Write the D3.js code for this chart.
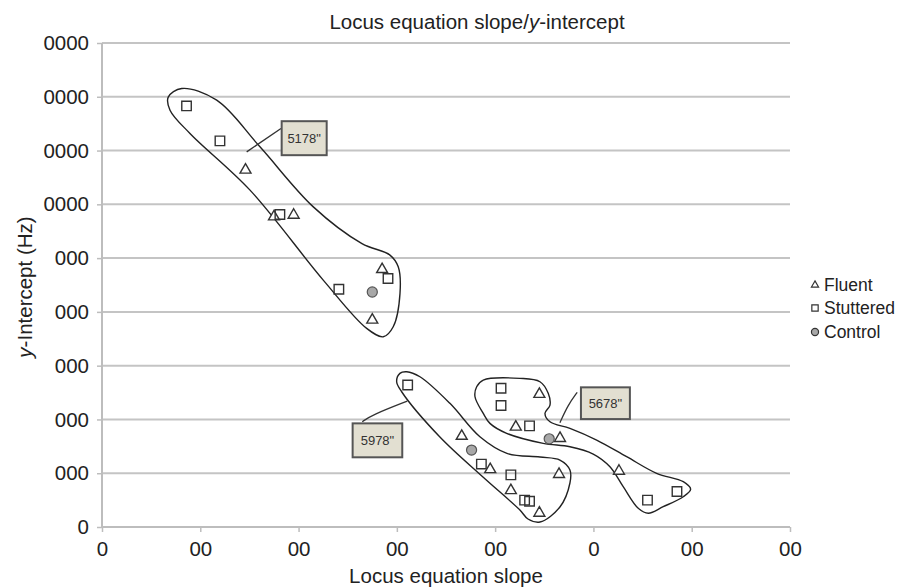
<!DOCTYPE html>
<html>
<head>
<meta charset="utf-8">
<script src="https://cdn.jsdelivr.net/npm/d3@7"></script>
<style>
  html, body { margin: 0; padding: 0; background: #fff; }
  svg { display: block; font-family: "Liberation Sans", Arial, Helvetica, sans-serif; }
</style>
</head>
<body>
<svg id="chart" width="900" height="587"></svg>
<script>
// ---------- data ----------
const xTickValues = [0, 1, 2, 3, 4, 5, 6, 7];
const xTickLabels = ["0", "00", "00", "00", "00", "0", "00", "00"];
const yTickValues = [0, 1, 2, 3, 4, 5, 6, 7, 8, 9];
const yTickLabels = ["0", "000", "000", "000", "000", "000", "0000", "0000", "0000", "0000"];

const fluent = [[1.46,6.64],[1.75,5.77],[1.95,5.80],[2.85,4.79],[2.75,3.85],[3.66,1.69],[3.95,1.07],
  [4.16,0.68],[4.45,0.26],[4.65,0.98],[4.45,2.47],[4.21,1.86],[4.66,1.65],[5.26,1.04]];
const stuttered = [[0.86,7.83],[1.20,7.18],[1.81,5.81],[2.91,4.62],[2.41,4.42],[3.11,2.64],[3.86,1.17],
  [4.16,0.97],[4.30,0.50],[4.35,0.48],[4.06,2.58],[4.06,2.26],[4.35,1.88],[5.55,0.50],[5.85,0.66]];
const control = [[2.75,4.37],[3.76,1.43],[4.55,1.64]];

const seriesNames = ["Fluent", "Stuttered", "Control"];

// hand-drawn group outlines (data units)
const outline1 = [[0.811,8.154],[1.167,7.937],[1.607,7.069],[2.150,5.953],[2.645,5.270],[2.930,5.056],
  [3.014,4.838],[3.032,4.344],[2.963,3.723],[2.862,3.537],[2.693,3.693],[2.251,4.591],[1.506,6.264],
  [0.895,7.318],[0.692,7.751],[0.674,7.993]];
const outline2 = [[3.100,2.887],[3.235,2.794],[3.540,2.299],[3.845,1.678],[4.120,1.370],[4.456,1.301],
  [4.659,1.245],[4.761,1.059],[4.761,0.818],[4.659,0.372],[4.456,0.093],[4.334,0.149],[4.252,0.316],
  [3.876,0.929],[3.438,1.673],[3.049,2.515],[2.998,2.701],[3.031,2.857]];
const outline3 = [[3.879,2.732],[4.252,2.764],[4.456,2.701],[4.540,2.485],[4.558,2.268],[4.507,2.113],
  [4.558,1.957],[4.761,1.835],[5.033,1.617],[5.338,1.307],[5.643,0.998],[5.914,0.842],[5.989,0.701],
  [5.914,0.563],[5.710,0.377],[5.558,0.255],[5.456,0.348],[5.303,0.749],[5.168,1.121],[4.998,1.357],
  [4.761,1.493],[4.489,1.556],[4.117,1.742],[3.947,1.927],[3.879,2.113],[3.795,2.422],[3.812,2.608]];

// callout labels: text, box corners [x0,y0,x1,y1], leader points
const callouts = [
  { text: "5178\"", box: [1.828, 7.546, 2.286, 6.914], leader: [[1.472,6.976],[1.821,7.411]] },
  { text: "5978\"", box: [2.550, 1.927, 3.055, 1.296], leader: [[2.648,1.957],[2.744,2.082],[3.106,2.342]] },
  { text: "5678\"", box: [4.873, 2.597, 5.371, 2.007], leader: [[4.835,2.504],[4.741,2.268],[4.659,1.939]] }
];

// ---------- layout ----------
const FS = 20.5;
const svg = d3.select("#chart");
const x = d3.scaleLinear().domain([0, 7]).range([102, 790]);
const y = d3.scaleLinear().domain([0, 9]).range([527, 43]);

// gridlines
svg.append("g").selectAll("line").data(yTickValues.filter(v => v > 0)).join("line")
  .attr("x1", x(0)).attr("x2", x(7))
  .attr("y1", d => y(d)).attr("y2", d => y(d))
  .attr("stroke", "#c4c4c4").attr("stroke-width", 2);

// axes
const yAxis = d3.axisLeft(y).tickValues(yTickValues).tickSize(5).tickPadding(8)
  .tickFormat((d, i) => yTickLabels[i]);
const gy = svg.append("g").attr("transform", `translate(${x(0)},0)`).call(yAxis);
const xAxis = d3.axisBottom(x).tickValues(xTickValues).tickSize(5).tickPadding(9)
  .tickFormat((d, i) => xTickLabels[i]);
const gx = svg.append("g").attr("transform", `translate(0,${y(0)})`).call(xAxis);
[gx, gy].forEach(g => {
  g.select(".domain").attr("stroke", "#bdbdbd").attr("stroke-width", 2);
  g.selectAll(".tick line").attr("stroke", "#bdbdbd").attr("stroke-width", 1.5);
  g.selectAll(".tick text").attr("font-size", FS).attr("fill", "#222")
    .attr("font-family", "Liberation Sans, Arial, sans-serif");
});
gy.select(".domain").attr("d", `M0,${y(9)}V${y(0)}`);
gx.select(".domain").attr("d", `M${x(0)},0H${x(7)}`);

// titles
const title = svg.append("text").attr("x", 477).attr("y", 29).attr("text-anchor", "middle")
  .attr("font-size", FS).attr("fill", "#222");
title.append("tspan").text("Locus equation slope/");
title.append("tspan").attr("font-style", "italic").text("y");
title.append("tspan").text("-intercept");

svg.append("text").attr("x", 446).attr("y", 583).attr("text-anchor", "middle")
  .attr("font-size", FS).attr("fill", "#222").text("Locus equation slope");

const yl = svg.append("text").attr("transform", "translate(32,287) rotate(-90)")
  .attr("text-anchor", "middle").attr("font-size", FS).attr("fill", "#222");
yl.append("tspan").attr("font-style", "italic").text("y");
yl.append("tspan").text("-Intercept (Hz)");

// outlines
const outlineLine = d3.line().x(d => x(d[0])).y(d => y(d[1])).curve(d3.curveCatmullRomClosed.alpha(0.5));
svg.append("g").selectAll("path").data([outline1, outline2, outline3]).join("path")
  .attr("d", outlineLine).attr("fill", "none").attr("stroke", "#222").attr("stroke-width", 1.4);

// markers
const triangle = d3.symbol().type(d3.symbolTriangle).size(52);
const square = d3.symbol().type(d3.symbolSquare).size(90);
const circle = d3.symbol().type(d3.symbolCircle).size(80);

svg.append("g").selectAll("path").data(fluent).join("path")
  .attr("transform", d => `translate(${x(d[0])},${y(d[1])})`)
  .attr("d", triangle).attr("fill", "#fff").attr("stroke", "#333").attr("stroke-width", 1.4);
svg.append("g").selectAll("path").data(stuttered).join("path")
  .attr("transform", d => `translate(${x(d[0])},${y(d[1])})`)
  .attr("d", square).attr("fill", "none").attr("stroke", "#333").attr("stroke-width", 1.4);
svg.append("g").selectAll("path").data(control).join("path")
  .attr("transform", d => `translate(${x(d[0])},${y(d[1])})`)
  .attr("d", circle).attr("fill", "#a8a8a8").attr("stroke", "#555").attr("stroke-width", 1.2);

// callouts
const leaderLine = d3.line().x(d => x(d[0])).y(d => y(d[1])).curve(d3.curveBasis);
const cg = svg.append("g").selectAll("g").data(callouts).join("g");
cg.append("path").attr("d", d => leaderLine(d.leader)).attr("fill", "none")
  .attr("stroke", "#333").attr("stroke-width", 1.3);
cg.append("rect")
  .attr("x", d => x(d.box[0])).attr("y", d => y(d.box[1]))
  .attr("width", d => x(d.box[2]) - x(d.box[0])).attr("height", d => y(d.box[3]) - y(d.box[1]))
  .attr("fill", "#e2dfd1").attr("stroke", "#555").attr("stroke-width", 2);
cg.append("text")
  .attr("x", d => (x(d.box[0]) + x(d.box[2])) / 2).attr("y", d => (y(d.box[1]) + y(d.box[3])) / 2 + 4.5)
  .attr("text-anchor", "middle").attr("font-size", 13).attr("fill", "#333").text(d => d.text);

// legend
const legend = svg.append("g").attr("transform", "translate(815,0)");
const legendY = [285, 308, 332];
const legendSym = [d3.symbol().type(d3.symbolTriangle).size(22), d3.symbol().type(d3.symbolSquare).size(40),
  d3.symbol().type(d3.symbolCircle).size(40)];
seriesNames.forEach((name, i) => {
  legend.append("path").attr("transform", `translate(0,${legendY[i]})`).attr("d", legendSym[i]())
    .attr("fill", i === 2 ? "#a8a8a8" : "#fff").attr("stroke", "#333").attr("stroke-width", 1.2);
  legend.append("text").attr("x", 9).attr("y", legendY[i] + 6).attr("font-size", 17.5)
    .attr("fill", "#222").text(name);
});
</script>
</body>
</html>
